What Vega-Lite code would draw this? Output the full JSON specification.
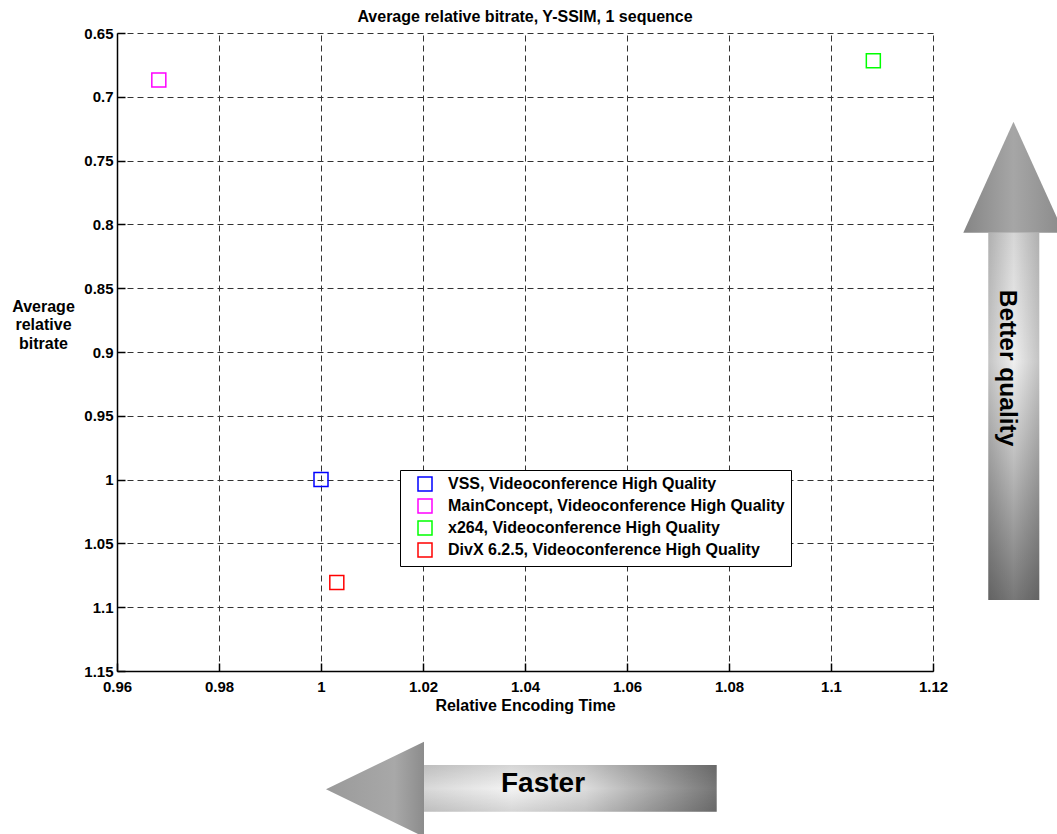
{
  "$schema": "https://vega.github.io/schema/vega-lite/v6.json",
  "width": 816,
  "height": 638,
  "autosize": {"type": "none"},
  "padding": {"left": 117, "top": 33, "right": 124, "bottom": 163},
  "background": "white",
  "config": {"view": {"stroke": null}},
  "title": {"text": "Average relative bitrate, Y-SSIM, 1 sequence", "font": "Liberation Sans", "fontSize": 16, "fontWeight": "bold", "color": "black", "anchor": "middle", "baseline": "alphabetic", "frame": "group", "offset": 11, "dy": 23},
  "datasets": {
    "points": [
      {"codec": "VSS, Videoconference High Quality", "x": 1.0, "y": 1.0},
      {"codec": "MainConcept, Videoconference High Quality", "x": 0.9682, "y": 0.6868},
      {"codec": "x264, Videoconference High Quality", "x": 1.1083, "y": 0.6718},
      {"codec": "DivX 6.2.5, Videoconference High Quality", "x": 1.0031, "y": 1.0806}
    ],
    "upHead": [
      {"y": 0.7195, "x": 1.13578, "x2": 1.13578},
      {"y": 0.8065, "x": 1.12594, "x2": 1.14563}
    ],
    "upBody": [
      {"y": 0.8065, "x": 1.13084, "x2": 1.14084},
      {"y": 1.0944, "x": 1.13084, "x2": 1.14084}
    ],
    "leftHead": [
      {"x": 1.00098, "y": 1.24271, "y2": 1.24271},
      {"x": 1.0202, "y": 1.20541, "y2": 1.28002}
    ],
    "leftBody": [
      {"x": 1.0202, "y": 1.22367, "y2": 1.26027},
      {"x": 1.07759, "y": 1.22367, "y2": 1.26027}
    ]
  },
  "encoding": {
    "x": {
      "field": "x", "type": "quantitative",
      "scale": {"domain": [0.96, 1.12], "nice": false, "zero": false},
      "axis": {
        "values": [0.96, 0.98, 1.0, 1.02, 1.04, 1.06, 1.08, 1.1, 1.12],
        "format": ".2~f",
        "title": "Relative Encoding Time",
        "grid": true, "gridDash": [6, 4], "gridColor": "#333", "gridWidth": 1,
        "tickSize": -8, "tickWidth": 1.5, "tickColor": "black",
        "domainColor": "black", "domainWidth": 1.5,
        "labelFont": "Liberation Sans", "labelFontSize": 15, "labelFontWeight": "bold", "labelColor": "black",
        "labelPadding": 16, "labelFlush": false, "labelOverlap": false, "labelBound": false,
        "titleFont": "Liberation Sans", "titleFontSize": 16, "titleFontWeight": "bold", "titleColor": "black", "titlePadding": 3
      }
    },
    "y": {
      "field": "y", "type": "quantitative",
      "scale": {"domain": [0.65, 1.15], "nice": false, "zero": false, "reverse": true},
      "axis": {
        "values": [0.65, 0.7, 0.75, 0.8, 0.85, 0.9, 0.95, 1.0, 1.05, 1.1, 1.15],
        "format": ".2~f",
        "title": ["Average", "relative", "bitrate"],
        "grid": true, "gridDash": [6, 4], "gridColor": "#333", "gridWidth": 1,
        "tickSize": -8, "tickWidth": 1.5, "tickColor": "black",
        "domainColor": "black", "domainWidth": 1.5,
        "labelFont": "Liberation Sans", "labelFontSize": 15, "labelFontWeight": "bold", "labelColor": "black",
        "labelPadding": 12, "labelFlush": false, "labelOverlap": false, "labelBound": false,
        "titleFont": "Liberation Sans", "titleFontSize": 16, "titleFontWeight": "bold", "titleColor": "black",
        "titleAngle": 0, "titleAlign": "center", "titleBaseline": "middle", "titleX": -74, "titleY": 273, "titleLineHeight": 18.5
      }
    }
  },
  "layer": [
    {
      "data": {"name": "upBody"},
      "mark": {"type": "area", "orient": "horizontal", "color": {"gradient": "linear", "x1": 0, "y1": 0, "x2": 0, "y2": 1, "stops": [{"offset": 0, "color": "#d6d6d6"}, {"offset": 0.35, "color": "#efefef"}, {"offset": 1, "color": "#787878"}]}},
      "encoding": {"x2": {"field": "x2"}}
    },
    {
      "data": {"name": "upBody"},
      "mark": {"type": "area", "orient": "horizontal", "color": {"gradient": "linear", "x1": 0, "y1": 0, "x2": 1, "y2": 0, "stops": [{"offset": 0, "color": "rgba(0,0,0,0.18)"}, {"offset": 0.5, "color": "rgba(0,0,0,0)"}, {"offset": 1, "color": "rgba(0,0,0,0.18)"}]}},
      "encoding": {"x2": {"field": "x2"}}
    },
    {
      "data": {"name": "upHead"},
      "mark": {"type": "area", "orient": "horizontal", "color": {"gradient": "linear", "x1": 0, "y1": 0, "x2": 1, "y2": 0, "stops": [{"offset": 0, "color": "#858585"}, {"offset": 0.5, "color": "#a6a6a6"}, {"offset": 1, "color": "#8a8a8a"}]}},
      "encoding": {"x2": {"field": "x2"}}
    },
    {
      "data": {"name": "leftBody"},
      "mark": {"type": "area", "orient": "vertical", "color": {"gradient": "linear", "x1": 0, "y1": 0, "x2": 1, "y2": 0, "stops": [{"offset": 0, "color": "#d8d8d8"}, {"offset": 0.3, "color": "#f3f3f3"}, {"offset": 0.55, "color": "#dcdcdc"}, {"offset": 1, "color": "#767676"}]}},
      "encoding": {"y2": {"field": "y2"}}
    },
    {
      "data": {"name": "leftBody"},
      "mark": {"type": "area", "orient": "vertical", "color": {"gradient": "linear", "x1": 0, "y1": 0, "x2": 0, "y2": 1, "stops": [{"offset": 0, "color": "rgba(0,0,0,0.12)"}, {"offset": 0.5, "color": "rgba(0,0,0,0)"}, {"offset": 1, "color": "rgba(0,0,0,0.12)"}]}},
      "encoding": {"y2": {"field": "y2"}}
    },
    {
      "data": {"name": "leftHead"},
      "mark": {"type": "area", "orient": "vertical", "color": {"gradient": "linear", "x1": 0, "y1": 0, "x2": 1, "y2": 0, "stops": [{"offset": 0, "color": "#9a9a9a"}, {"offset": 0.7, "color": "#a8a8a8"}, {"offset": 1, "color": "#8c8c8c"}]}},
      "encoding": {"y2": {"field": "y2"}}
    },
    {
      "data": {"values": [{"label": "Faster", "x": 1.04353, "y": 1.24506}]},
      "mark": {"type": "text", "font": "Liberation Sans", "fontSize": 28, "fontWeight": "bold", "align": "center", "baseline": "alphabetic", "color": "black"},
      "encoding": {"text": {"field": "label"}}
    },
    {
      "data": {"values": [{"label": "Better quality", "x": 1.13304, "y": 0.91254}]},
      "mark": {"type": "text", "font": "Liberation Sans", "fontSize": 24.5, "fontWeight": "bold", "align": "center", "baseline": "alphabetic", "angle": 90, "color": "black"},
      "encoding": {"text": {"field": "label"}}
    },
    {
      "data": {"name": "points"},
      "mark": {"type": "point", "shape": "square", "filled": false, "size": 196, "strokeWidth": 1.5, "opacity": 1},
      "encoding": {
        "color": {
          "field": "codec", "type": "nominal",
          "scale": {
            "domain": ["VSS, Videoconference High Quality", "MainConcept, Videoconference High Quality", "x264, Videoconference High Quality", "DivX 6.2.5, Videoconference High Quality"],
            "range": ["#0000ff", "#ff00ff", "#00ff00", "#ff0000"]
          },
          "legend": {
            "title": null, "orient": "none", "legendX": 283, "legendY": 437, "direction": "vertical",
            "strokeColor": "black", "fillColor": "white", "padding": 6,
            "symbolType": "square", "symbolSize": 196, "symbolStrokeWidth": 1.5, "symbolFillColor": "transparent", "symbolOffset": 11,
            "labelOffset": 15, "labelFont": "Liberation Sans", "labelFontSize": 16, "labelFontWeight": "bold", "labelColor": "black", "labelLimit": 0,
            "rowPadding": 2
          }
        }
      }
    }
  ]
}
